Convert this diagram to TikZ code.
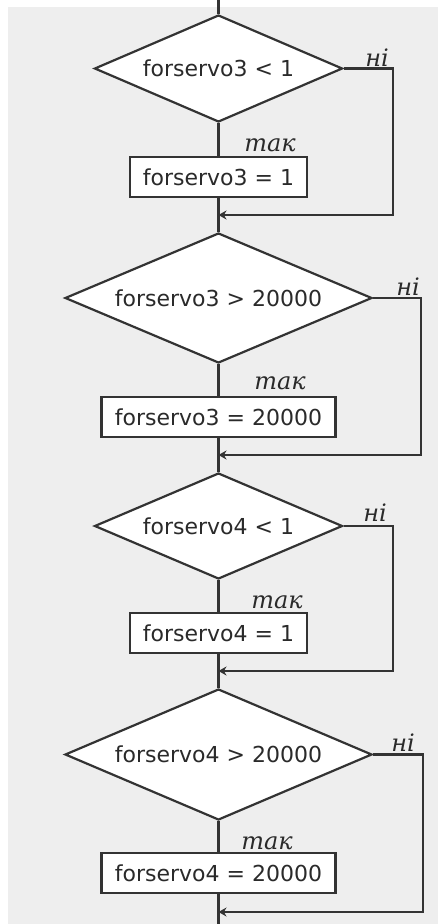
\documentclass[tikz,border=0pt]{standalone}
\usepackage{fontspec}
\setmainfont{DejaVu Sans}
\newfontfamily\labelfont{DejaVu Serif}
\usetikzlibrary{shapes.geometric,arrows.meta}
\definecolor{linecol}{HTML}{333333}
\definecolor{txtcol}{HTML}{2A2A2A}
\definecolor{bgcol}{HTML}{EEEEEE}
\begin{document}
\begin{tikzpicture}[x=1pt,y=-1pt,
  flow/.style={draw=linecol, line width=2.2pt},
  condbox/.style={diamond, draw=linecol, line width=2.2pt, fill=white,
    inner sep=0pt, aspect=2.3, text=txtcol,
    font=\fontsize{22}{26}\selectfont},
  actbox/.style={rectangle, draw=linecol, line width=2.2pt, fill=white,
    inner sep=0pt, minimum height=40pt, text=txtcol,
    font=\fontsize{22}{26}\selectfont},
  branchlbl/.style={text=txtcol, inner sep=0pt,
    font=\labelfont\itshape\fontsize{24}{28}\selectfont},
  mergetip/.style={-{Stealth[length=8pt,width=9pt]}}
]
% canvas
\fill[white] (0,0) rectangle (438,924);
\fill[bgcol] (8,7) rectangle (438,924);
\useasboundingbox (0,0) rectangle (438,924);

% entry and exit points of the main flow
\coordinate (top) at (218.5,0);
\coordinate (bottom) at (218.5,924);

% decisions
\node[condbox, minimum width=248pt, minimum height=107pt] (c1) at (218.5,68.5) {forservo3 < 1};
\node[condbox, minimum width=307pt, minimum height=130pt] (c2) at (218.5,298) {forservo3 > 20000};
\node[condbox, minimum width=248pt, minimum height=106pt] (c3) at (218.5,526) {forservo4 < 1};
\node[condbox, minimum width=307pt, minimum height=131pt] (c4) at (218.5,754.5) {forservo4 > 20000};

% assignments
\node[actbox, minimum width=177pt] (b1) at (218.5,177) {forservo3 = 1};
\node[actbox, minimum width=234pt] (b2) at (218.5,417) {forservo3 = 20000};
\node[actbox, minimum width=177pt] (b3) at (218.5,633) {forservo4 = 1};
\node[actbox, minimum width=234pt] (b4) at (218.5,873) {forservo4 = 20000};

% join points of the "no" branches
\coordinate (m1) at (218.5,215);
\coordinate (m2) at (218.5,455);
\coordinate (m3) at (218.5,671);
\coordinate (m4) at (218.5,912);
\coordinate (k1) at (393,215);
\coordinate (k2) at (421,455);
\coordinate (k3) at (393,671);
\coordinate (k4) at (423,912);

% main flow
\draw[flow] (top) -- (c1.north);
\draw[flow] (c1.south) -- (b1.north);
\draw[flow] (b1.south) -- (c2.north);
\draw[flow] (c2.south) -- (b2.north);
\draw[flow] (b2.south) -- (c3.north);
\draw[flow] (c3.south) -- (b3.north);
\draw[flow] (b3.south) -- (c4.north);
\draw[flow] (c4.south) -- (b4.north);
\draw[flow] (b4.south) -- (bottom);

% "no" branches
\draw[flow, mergetip] (c1.east) -| (k1) -- (m1);
\draw[flow, mergetip] (c2.east) -| (k2) -- (m2);
\draw[flow, mergetip] (c3.east) -| (k3) -- (m3);
\draw[flow, mergetip] (c4.east) -| (k4) -- (m4);

% branch labels
\node[branchlbl] (n1) at (377,58) {ні};
\node[branchlbl] (n2) at (408,287) {ні};
\node[branchlbl] (n3) at (375,513) {ні};
\node[branchlbl] (n4) at (403,743) {ні};
\node[branchlbl] (y1) at (270,145) {так};
\node[branchlbl] (y2) at (280,383) {так};
\node[branchlbl] (y3) at (277,602) {так};
\node[branchlbl] (y4) at (267,843) {так};
\end{tikzpicture}
\end{document}
